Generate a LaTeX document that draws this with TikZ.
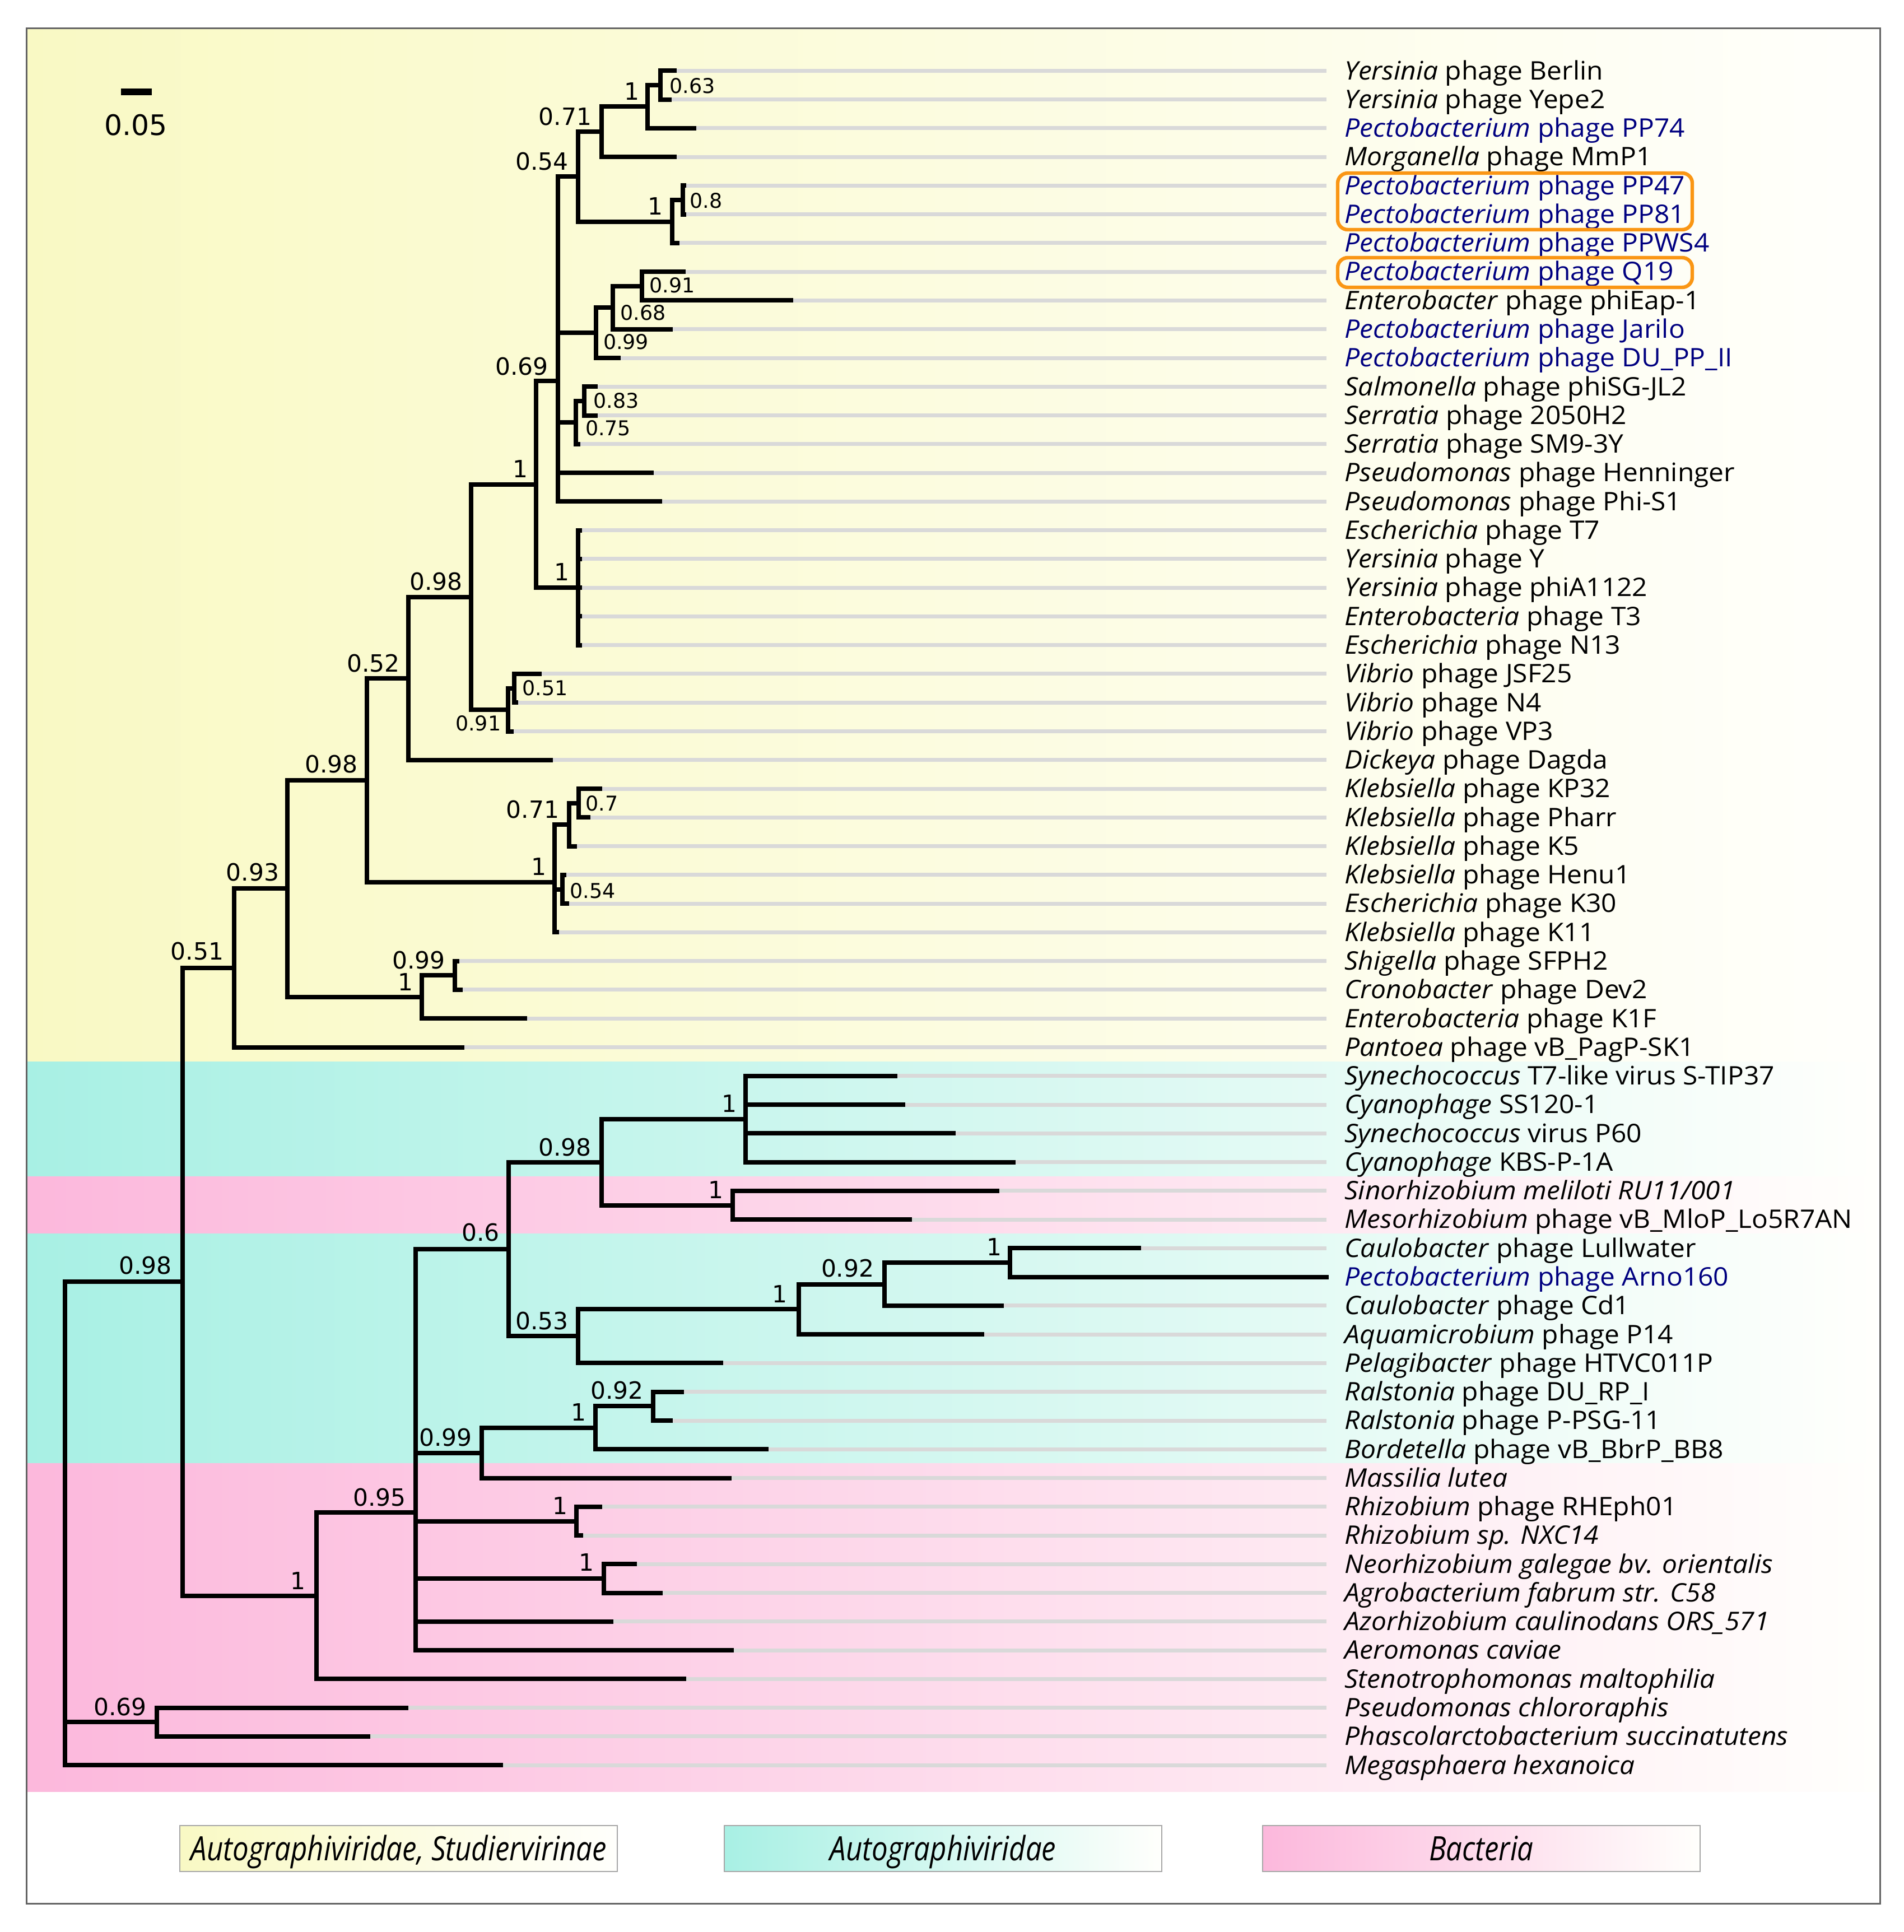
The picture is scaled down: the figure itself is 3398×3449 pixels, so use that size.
\documentclass[tikz,border=0pt]{standalone}
\usepackage{fontspec}
\newfontfamily\leaffont[FakeStretch=1.05]{Open Sans}
\newfontfamily\legfont[FakeStretch=0.85]{Open Sans}
\newfontfamily\numfont{DejaVu Sans}
\definecolor{bandY}{RGB}{249,249,196}
\definecolor{bandC}{RGB}{168,240,228}
\definecolor{bandP}{RGB}{252,184,220}
\definecolor{fadeW}{RGB}{255,255,252}
\definecolor{pecto}{RGB}{0,0,128}
\definecolor{guidegray}{RGB}{217,217,217}
\definecolor{hiorange}{RGB}{250,150,20}
\definecolor{framegray}{RGB}{100,100,100}
\newcommand\leafX[5]{%
  \pgfmathsetmacro\yy{126.3+(#2-1)*51.27}%
  \coordinate (t#1) at (#3,\yy);
  \coordinate (e#1) at (2368,\yy);
  \draw[guide] (t#1) -- (e#1);
  \node[leaflab,text=#4] (#1) at (2400,\yy+15.8) {#5};
}
\newcommand\kids[2]{\foreach \c in {#2} {\draw[branch] (#1) |- (\c);}}
\begin{document}
\begin{tikzpicture}[x=0.25pt,y=-0.25pt,
  branch/.style={line width=2pt,line cap=rect,black},
  guide/.style={line width=1.75pt,guidegray},
  leaflab/.style={anchor=base west,inner sep=0pt,font=\leaffont\fontsize{11.4}{13}\selectfont},
  supbig/.style={anchor=base,inner sep=0pt,font=\numfont\fontsize{10.6}{12}\selectfont},
  supsmall/.style={anchor=base west,inner sep=0pt,font=\numfont\fontsize{9.1}{11}\selectfont},
  legbox/.style={draw=gray!70,line width=0.5pt,minimum width=195.25pt,minimum height=20.5pt,inner sep=0pt},
  legtext/.style={anchor=base,inner sep=0pt,font=\legfont\itshape\fontsize{15}{17}\selectfont},
  hibox/.style={draw=hiorange,line width=1.6pt,rounded corners=4.5pt}]
\useasboundingbox (0,0) rectangle (3398,3449);
\fill[white] (0,0) rectangle (3398,3449);
% bands
\shade[left color=bandY,right color=fadeW] (47,50) rectangle (3350,1895.1);
\shade[left color=bandC,right color=fadeW] (47,1895.1) rectangle (3350,2100.3);
\shade[left color=bandP,right color=fadeW] (47,2100.3) rectangle (3350,2202.7);
\shade[left color=bandC,right color=fadeW] (47,2202.7) rectangle (3350,2612.9);
\shade[left color=bandP,right color=fadeW] (47,2612.9) rectangle (3350,3198);
\draw[framegray,line width=0.75pt] (47,50) rectangle (3356,3398);
% scale bar
\coordinate (sb1) at (215.7,163.8);
\coordinate (sb2) at (271.3,163.8);
\draw[line width=2.9pt] (sb1) -- (sb2);
\node[anchor=base,inner sep=0pt,font=\numfont\fontsize{12.6}{14}\selectfont] (sblab) at (242.2,241.3) {0.05};
% leaves
\leafX{l1}{1}{1204.1}{black}{\textit{Yersinia} phage Berlin}
\leafX{l2}{2}{1195}{black}{\textit{Yersinia} phage Yepe2}
\leafX{l3}{3}{1238.8}{pecto}{\textit{Pectobacterium} phage PP74}
\leafX{l4}{4}{1204.1}{black}{\textit{Morganella} phage MmP1}
\leafX{l5}{5}{1221}{pecto}{\textit{Pectobacterium} phage PP47}
\leafX{l6}{6}{1221}{pecto}{\textit{Pectobacterium} phage PP81}
\leafX{l7}{7}{1208.5}{pecto}{\textit{Pectobacterium} phage PPWS4}
\leafX{l8}{8}{1220.3}{pecto}{\textit{Pectobacterium} phage Q19}
\leafX{l9}{9}{1412.2}{black}{\textit{Enterobacter} phage phiEap-1}
\leafX{l10}{10}{1196.7}{pecto}{\textit{Pectobacterium} phage Jarilo}
\leafX{l11}{11}{1103.5}{pecto}{\textit{Pectobacterium} phage DU\_PP\_II}
\leafX{l12}{12}{1063.3}{black}{\textit{Salmonella} phage phiSG-JL2}
\leafX{l13}{13}{1063.3}{black}{\textit{Serratia} phage 2050H2}
\leafX{l14}{14}{1031.7}{black}{\textit{Serratia} phage SM9-3Y}
\leafX{l15}{15}{1162.7}{black}{\textit{Pseudomonas} phage Henninger}
\leafX{l16}{16}{1177.7}{black}{\textit{Pseudomonas} phage Phi-S1}
\leafX{l17}{17}{1035}{black}{\textit{Escherichia} phage T7}
\leafX{l18}{18}{1035}{black}{\textit{Yersinia} phage Y}
\leafX{l19}{19}{1035}{black}{\textit{Yersinia} phage phiA1122}
\leafX{l20}{20}{1035}{black}{\textit{Enterobacteria} phage T3}
\leafX{l21}{21}{1035}{black}{\textit{Escherichia} phage N13}
\leafX{l22}{22}{962.7}{black}{\textit{Vibrio} phage JSF25}
\leafX{l23}{23}{921}{black}{\textit{Vibrio} phage N4}
\leafX{l24}{24}{913}{black}{\textit{Vibrio} phage VP3}
\leafX{l25}{25}{982.7}{black}{\textit{Dickeya} phage Dagda}
\leafX{l26}{26}{1070.7}{black}{\textit{Klebsiella} phage KP32}
\leafX{l27}{27}{1050}{black}{\textit{Klebsiella} phage Pharr}
\leafX{l28}{28}{1026}{black}{\textit{Klebsiella} phage K5}
\leafX{l29}{29}{1006.7}{black}{\textit{Klebsiella} phage Henu1}
\leafX{l30}{30}{1011.7}{black}{\textit{Escherichia} phage K30}
\leafX{l31}{31}{994}{black}{\textit{Klebsiella} phage K11}
\leafX{l32}{32}{815.7}{black}{\textit{Shigella} phage SFPH2}
\leafX{l33}{33}{822.3}{black}{\textit{Cronobacter} phage Dev2}
\leafX{l34}{34}{936.7}{black}{\textit{Enterobacteria} phage K1F}
\leafX{l35}{35}{825}{black}{\textit{Pantoea} phage vB\_PagP-SK1}
\leafX{l36}{36}{1597.8}{black}{\textit{Synechococcus} T7-like virus S-TIP37}
\leafX{l37}{37}{1612}{black}{\textit{Cyanophage} SS120-1}
\leafX{l38}{38}{1702.4}{black}{\textit{Synechococcus} virus P60}
\leafX{l39}{39}{1808.9}{black}{\textit{Cyanophage} KBS-P-1A}
\leafX{l40}{40}{1779.8}{black}{\textit{Sinorhizobium meliloti RU11/001}}
\leafX{l41}{41}{1623.6}{black}{\textit{Mesorhizobium} phage vB\_MloP\_Lo5R7AN}
\leafX{l42}{42}{2032.7}{black}{\textit{Caulobacter} phage Lullwater}
\leafX{l43}{43}{2368}{pecto}{\textit{Pectobacterium} phage Arno160}
\leafX{l44}{44}{1787.8}{black}{\textit{Caulobacter} phage Cd1}
\leafX{l45}{45}{1752.7}{black}{\textit{Aquamicrobium} phage P14}
\leafX{l46}{46}{1286.7}{black}{\textit{Pelagibacter} phage HTVC011P}
\leafX{l47}{47}{1216.6}{black}{\textit{Ralstonia} phage DU\_RP\_I}
\leafX{l48}{48}{1197.3}{black}{\textit{Ralstonia} phage P-PSG-11}
\leafX{l49}{49}{1368}{black}{\textit{Bordetella} phage vB\_BbrP\_BB8}
\leafX{l50}{50}{1301.6}{black}{\textit{Massilia lutea}}
\leafX{l51}{51}{1071}{black}{\textit{Rhizobium} phage RHEph01}
\leafX{l52}{52}{1036.5}{black}{\textit{Rhizobium sp. NXC14}}
\leafX{l53}{53}{1132.7}{black}{\textit{Neorhizobium galegae bv. orientalis}}
\leafX{l54}{54}{1178.9}{black}{\textit{Agrobacterium fabrum str. C58}}
\leafX{l55}{55}{1090.9}{black}{\textit{Azorhizobium caulinodans ORS\_571}}
\leafX{l56}{56}{1306.4}{black}{\textit{Aeromonas caviae}}
\leafX{l57}{57}{1220.7}{black}{\textit{Stenotrophomonas maltophilia}}
\leafX{l58}{58}{724.6}{black}{\textit{Pseudomonas chlororaphis}}
\leafX{l59}{59}{657.4}{black}{\textit{Phascolarctobacterium succinatutens}}
\leafX{l60}{60}{894}{black}{\textit{Megasphaera hexanoica}}
% highlight boxes
\draw[hibox] (2388,309) rectangle (3021,410);
\draw[hibox] (2388,460) rectangle (3021,513);
% internal nodes
\coordinate (n063) at (1179.2,152.0);
\coordinate (n1a) at (1156.3,190.4);
\coordinate (n071a) at (1073.8,235.3);
\coordinate (n08) at (1218.6,357.1);
\coordinate (n1b) at (1199.8,395.5);
\coordinate (n054) at (1031.7,315.4);
\coordinate (n091a) at (1146.2,510.9);
\coordinate (n068) at (1094,549.3);
\coordinate (n099a) at (1063.7,594.2);
\coordinate (n083) at (1043,715.9);
\coordinate (n075) at (1027.7,754.4);
\coordinate (n069) at (995.5,680.1);
\coordinate (n1t) at (1031.7,1049.2);
\coordinate (n1c) at (957.3,864.6);
\coordinate (n051v) at (918.3,1228.6);
\coordinate (n091v) at (906.7,1267.0);
\coordinate (n098a) at (840.7,1065.8);
\coordinate (n052) at (728.7,1211.3);
\coordinate (n07) at (1033.3,1433.7);
\coordinate (n071k) at (1016.3,1472.2);
\coordinate (n054k) at (1004,1587.5);
\coordinate (n1k) at (990.3,1574.7);
\coordinate (n098b) at (655.4,1393);
\coordinate (n099s) at (812.3,1741.3);
\coordinate (n1s) at (753,1779.8);
\coordinate (n093) at (512.5,1586.4);
\coordinate (n051) at (417.9,1728);
\coordinate (n1cy) at (1330.5,1997.7);
\coordinate (n1sm) at (1307.9,2151.5);
\coordinate (n098c) at (1073.6,2074.6);
\coordinate (n1lu) at (1803,2254);
\coordinate (n092c) at (1578.6,2292.5);
\coordinate (n1aq) at (1425.5,2337.3);
\coordinate (n053) at (1031.5,2385.4);
\coordinate (n06) at (908.3,2230);
\coordinate (n092r) at (1165.7,2510.4);
\coordinate (n1r) at (1062.6,2548.8);
\coordinate (n099b) at (860.1,2593.7);
\coordinate (n1rh) at (1028.9,2715.5);
\coordinate (n1ne) at (1077.7,2818);
\coordinate (n095) at (741.9,2699.7);
\coordinate (n1b2) at (565.2,2848.6);
\coordinate (n098r) at (325.5,2288.3);
\coordinate (n069b) at (279.7,3074.3);
\coordinate (root) at (116.1,2838);
% branches
\kids{n063}{tl1,tl2}
\kids{n1a}{n063,tl3}
\kids{n071a}{n1a,tl4}
\kids{n08}{tl5,tl6}
\kids{n1b}{n08,tl7}
\kids{n054}{n071a,n1b}
\kids{n091a}{tl8,tl9}
\kids{n068}{n091a,tl10}
\kids{n099a}{n068,tl11}
\kids{n083}{tl12,tl13}
\kids{n075}{n083,tl14}
\kids{n069}{n054,n099a,n075,tl15,tl16}
\kids{n1t}{tl17,tl18,tl19,tl20,tl21}
\kids{n1c}{n069,n1t}
\kids{n051v}{tl22,tl23}
\kids{n091v}{n051v,tl24}
\kids{n098a}{n1c,n091v}
\kids{n052}{n098a,tl25}
\kids{n07}{tl26,tl27}
\kids{n071k}{n07,tl28}
\kids{n054k}{tl29,tl30}
\kids{n1k}{n071k,n054k,tl31}
\kids{n098b}{n052,n1k}
\kids{n099s}{tl32,tl33}
\kids{n1s}{n099s,tl34}
\kids{n093}{n098b,n1s}
\kids{n051}{n093,tl35}
\kids{n1cy}{tl36,tl37,tl38,tl39}
\kids{n1sm}{tl40,tl41}
\kids{n098c}{n1cy,n1sm}
\kids{n1lu}{tl42,tl43}
\kids{n092c}{n1lu,tl44}
\kids{n1aq}{n092c,tl45}
\kids{n053}{n1aq,tl46}
\kids{n06}{n098c,n053}
\kids{n092r}{tl47,tl48}
\kids{n1r}{n092r,tl49}
\kids{n099b}{n1r,tl50}
\kids{n1rh}{tl51,tl52}
\kids{n1ne}{tl53,tl54}
\kids{n095}{n06,n099b,n1rh,n1ne,tl55,tl56}
\kids{n1b2}{n095,tl57}
\kids{n098r}{n051,n1b2}
\kids{n069b}{tl58,tl59}
\kids{root}{n098r,n069b,tl60}
% support values (large)
\node[supbig] (s071a) at (1009,223.4) {0.71};
\node[supbig] (s1a) at (1127.7,178.1) {1};
\node[supbig] (s054) at (967.7,303.7) {0.54};
\node[supbig] (s1b) at (1169.8,383.7) {1};
\node[supbig] (s069) at (931.5,669.5) {0.69};
\node[supbig] (s1c) at (928.5,852.2) {1};
\node[supbig] (s1t) at (1003,1036.7) {1};
\node[supbig] (s098a) at (778.6,1053.8) {0.98};
\node[supbig] (s052) at (666.4,1199) {0.52};
\node[supbig] (s071k) at (950.9,1460.4) {0.71};
\node[supbig] (s1k) at (961.7,1562.3) {1};
\node[supbig] (s098b) at (591.6,1379.3) {0.98};
\node[supbig] (s099s) at (747.5,1729.4) {0.99};
\node[supbig] (s1s) at (724,1768.7) {1};
\node[supbig] (s093) at (450.9,1572.9) {0.93};
\node[supbig] (s051) at (351.9,1713.7) {0.51};
\node[supbig] (s098c) at (1008.7,2063.4) {0.98};
\node[supbig] (s1cy) at (1302.4,1985) {1};
\node[supbig] (s1sm) at (1278.3,2139.4) {1};
\node[supbig] (s06) at (857.8,2215.1) {0.6};
\node[supbig] (s053) at (967.7,2373.5) {0.53};
\node[supbig] (s1aq) at (1392.2,2325.1) {1};
\node[supbig] (s092c) at (1513.2,2279.7) {0.92};
\node[supbig] (s1lu) at (1775.3,2241.4) {1};
\node[supbig] (s099b) at (795.6,2581) {0.99};
\node[supbig] (s1r) at (1033.4,2536.7) {1};
\node[supbig] (s092r) at (1101.7,2497.7) {0.92};
\node[supbig] (s1rh) at (1000,2703) {1};
\node[supbig] (s1ne) at (1046.9,2804.5) {1};
\node[supbig] (s095) at (677.4,2688) {0.95};
\node[supbig] (s1b2) at (532.3,2837.7) {1};
\node[supbig] (s098r) at (259.5,2274.5) {0.98};
\node[supbig] (s069b) at (214.5,3062) {0.69};
% support values (small)
\node[supsmall] (s063) at (1195,166.9) {0.63};
\node[supsmall] (s08) at (1231,371.2) {0.8};
\node[supsmall] (s091a) at (1158.7,522.9) {0.91};
\node[supsmall] (s068) at (1106.8,571.1) {0.68};
\node[supsmall] (s099a) at (1076.2,623.6) {0.99};
\node[supsmall] (s083) at (1059,728) {0.83};
\node[supsmall] (s075) at (1044.3,777.1) {0.75};
\node[supsmall] (s051v) at (931.7,1241.7) {0.51};
\node[supsmall,anchor=base east] (s091v) at (895,1304.2) {0.91};
\node[supsmall] (s07) at (1045,1447.7) {0.7};
\node[supsmall] (s054k) at (1016.7,1603.7) {0.54};
% legend
\node[legbox,left color=bandY,right color=fadeW] (lg1) at (711.7,3300) {};
\node[legbox,left color=bandC,right color=fadeW] (lg2) at (1683.5,3300) {};
\node[legbox,left color=bandP,right color=fadeW] (lg3) at (2644.5,3300) {};
\node[legtext] (lt1) at (711.7,3321.3) {Autographiviridae, Studiervirinae};
\node[legtext] (lt2) at (1683.5,3321.3) {Autographiviridae};
\node[legtext] (lt3) at (2644.5,3321.3) {Bacteria};
\end{tikzpicture}
\end{document}
